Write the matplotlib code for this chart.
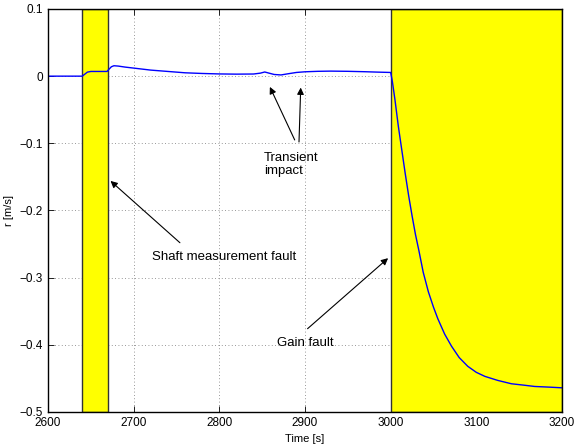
import matplotlib
matplotlib.use('Agg')
import matplotlib.pyplot as plt
import numpy as np

plt.rcParams['font.family'] = ['Liberation Sans', 'DejaVu Sans']

# residual r [m/s]
t = [2600, 2620, 2640, 2643, 2646, 2650, 2660, 2669, 2671, 2674, 2677, 2682, 2690,
     2700, 2720, 2740, 2760, 2780, 2800, 2820, 2840, 2848, 2853, 2858, 2864, 2872,
     2880, 2890, 2900, 2915, 2930, 2950, 2970, 2985, 3000,
     3002, 3005, 3009, 3013, 3017, 3021, 3025, 3029, 3033, 3038, 3044, 3050, 3055, 3063, 3071,
     3080, 3090, 3100, 3110, 3125, 3141, 3155, 3168, 3185, 3200]
r = [0.0, 0.0, 0.0, 0.003, 0.006, 0.007, 0.007, 0.007, 0.010, 0.014, 0.0155, 0.015, 0.0135,
     0.012, 0.009, 0.007, 0.005, 0.004, 0.0033, 0.003, 0.0032, 0.0045, 0.0062, 0.0045, 0.0025, 0.0018,
     0.0035, 0.0055, 0.0065, 0.0072, 0.0075, 0.0072, 0.0066, 0.006, 0.0055,
     -0.008, -0.035, -0.075, -0.11, -0.145, -0.178, -0.208, -0.236, -0.26, -0.292, -0.321, -0.344, -0.361, -0.384, -0.402,
     -0.419, -0.432, -0.441, -0.447, -0.453, -0.458, -0.46, -0.462, -0.463, -0.464]

fault_spans = [(2640, 2670), (3000, 3200)]

xticks = [2600, 2700, 2800, 2900, 3000, 3100, 3200]
yticks = [-0.5, -0.4, -0.3, -0.2, -0.1, 0, 0.1]
ytick_labels = ['\u22120.5', '\u22120.4', '\u22120.3', '\u22120.2', '\u22120.1', '0', '0.1']

fig = plt.figure(figsize=(5.76, 4.45), dpi=100)
ax = fig.add_axes([0.0833, 0.0742, 0.8924, 0.9056])

for a, b in fault_spans:
    ax.axvspan(a, b, facecolor='yellow', edgecolor='#333333', lw=1.0, zorder=2)

ax.plot(t, r, color='blue', lw=1.0, zorder=3)

ax.set_xlim(2600, 3200)
ax.set_ylim(-0.5, 0.1)
ax.set_xticks(xticks)
ax.set_yticks(yticks)
ax.set_yticklabels(ytick_labels)
ax.tick_params(direction='in', top=True, right=True, labelsize=8.5, length=4, width=0.6)
ax.grid(True, color='#777777', linestyle=(0, (1, 3)), lw=0.6, zorder=0)
ax.set_axisbelow(True)
for s in ax.spines.values():
    s.set_linewidth(1.0)
    s.set_zorder(4)

ax.set_xlabel('Time [s]', fontsize=8)
ax.set_ylabel('r [m/s]', fontsize=8)

arrow = dict(arrowstyle='-|>', color='k', lw=0.8, mutation_scale=10, shrinkA=0, shrinkB=0)

# transient impact
ax.annotate('', xy=(2859, -0.016), xytext=(2888, -0.095), arrowprops=arrow, zorder=5)
ax.annotate('', xy=(2895, -0.017), xytext=(2893, -0.098), arrowprops=arrow, zorder=5)
ax.text(2852, -0.132, 'Transient\nimpact', fontsize=9.5, ha='left', va='center', linespacing=1.15)

# shaft measurement fault
ax.annotate('', xy=(2673, -0.156), xytext=(2754, -0.248), arrowprops=arrow, zorder=5)
ax.text(2721, -0.269, 'Shaft measurement fault', fontsize=9.5, ha='left', va='center')

# gain fault
ax.annotate('', xy=(2997, -0.271), xytext=(2903, -0.376), arrowprops=arrow, zorder=5)
ax.text(2867, -0.397, 'Gain fault', fontsize=9.5, ha='left', va='center')

fig.savefig('out.png', dpi=100)
